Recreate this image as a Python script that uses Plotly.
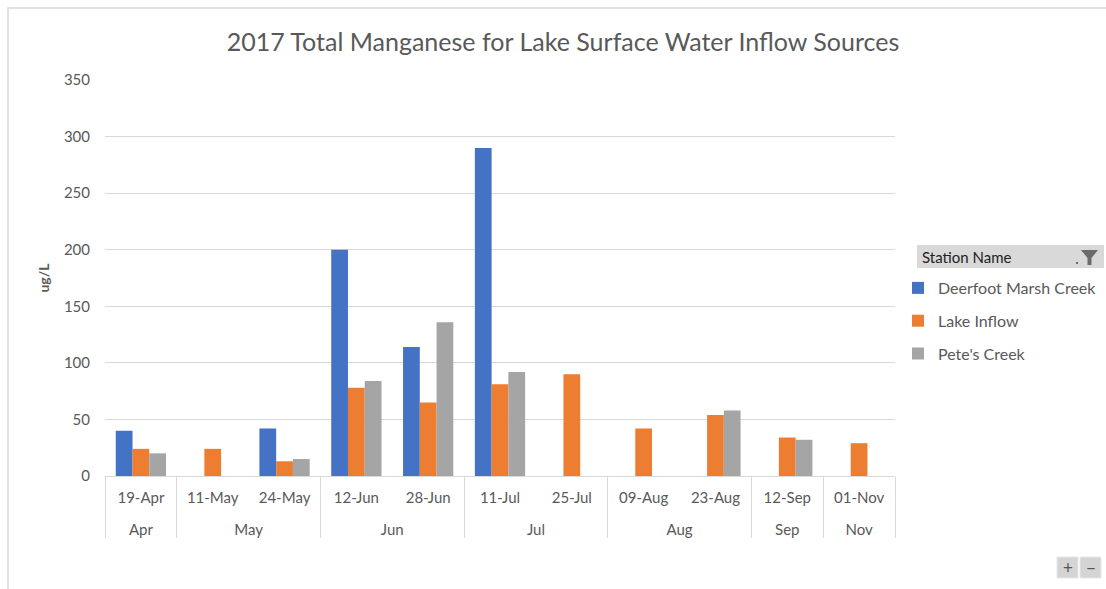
import plotly.graph_objects as go

months = ["Apr", "May", "May", "Jun", "Jun", "Jul", "Jul", "Aug", "Aug", "Sep", "Nov"]
dates = ["19-Apr", "11-May", "24-May", "12-Jun", "28-Jun", "11-Jul", "25-Jul",
         "09-Aug", "23-Aug", "12-Sep", "01-Nov"]
deerfoot = [40, None, 42, 200, 114, 290, None, None, None, None, None]
lake_inflow = [24, 24, 13, 78, 65, 81, 90, 42, 54, 34, 29]
petes = [20, None, 15, 84, 136, 92, None, None, 58, 32, None]

series = [
    ("Deerfoot Marsh Creek", deerfoot, "#4472C4"),
    ("Lake Inflow", lake_inflow, "#ED7D31"),
    ("Pete's Creek", petes, "#A5A5A5"),
]

W, H = 1106, 589
L, R, T, B = 105, 895, 80, 476
FONT = "Lato, Calibri, 'Open Sans', sans-serif"
TXT = "#595959"
GRID = "#d9d9d9"


def px(x):
    return (x - L) / (R - L)


def py(y):
    return (B - y) / (B - T)


# inner labels get an empty second line so the outer row sits lower (as in Excel)
date_labels = [d + "<br> " for d in dates]

fig = go.Figure()
for i, (name, vals, col) in enumerate(series):
    fig.add_trace(go.Bar(
        x=[months, date_labels], y=vals, name=name,
        marker=dict(color=col, line=dict(width=0)),
        legendgroup=f"g{i}",
    ))

shapes = [
    # outer chart frame
    dict(type="rect", xref="paper", yref="paper",
         x0=px(8), x1=px(1112), y0=py(8), y1=py(600),
         line=dict(color=GRID, width=1.5), fillcolor="rgba(0,0,0,0)", layer="below"),
    # legend header background
    dict(type="rect", xref="paper", yref="paper",
         x0=px(917), x1=px(1104), y0=py(245), y1=py(268),
         line=dict(width=0), fillcolor="#d9d9d9"),
    # filter funnel icon
    dict(type="path", xref="paper", yref="paper",
         path=(f"M {px(1081)} {py(250)} L {px(1098)} {py(250)} L {px(1091.5)} {py(258)} "
               f"L {px(1091.5)} {py(265)} L {px(1087.5)} {py(265)} L {px(1087.5)} {py(258)} Z"),
         line=dict(width=0), fillcolor="#6b6b6b"),
    dict(type="rect", xref="paper", yref="paper",
         x0=px(1076), x1=px(1078), y0=py(262), y1=py(264),
         line=dict(width=0), fillcolor="#6b6b6b"),
    # zoom buttons
    dict(type="rect", xref="paper", yref="paper",
         x0=px(1057), x1=px(1078), y0=py(557), y1=py(578),
         line=dict(color="#e8e8e8", width=1), fillcolor="#d4d4d4"),
    dict(type="rect", xref="paper", yref="paper",
         x0=px(1080), x1=px(1101), y0=py(557), y1=py(578),
         line=dict(color="#e8e8e8", width=1), fillcolor="#d4d4d4"),
]

annotations = [
    dict(text="Station Name", xref="paper", yref="paper", x=px(920), y=py(257),
         xanchor="left", yanchor="middle", showarrow=False,
         font=dict(family=FONT, size=15, color="#222222")),
    dict(text="+", xref="paper", yref="paper", x=px(1067.5), y=py(567),
         xanchor="center", yanchor="middle", showarrow=False,
         font=dict(family=FONT, size=17, color="#555555")),
    dict(text="−", xref="paper", yref="paper", x=px(1090.5), y=py(567),
         xanchor="center", yanchor="middle", showarrow=False,
         font=dict(family=FONT, size=17, color="#555555")),
]

fig.update_layout(
    width=W, height=H,
    margin=dict(l=L, r=W - R, t=T, b=H - B, pad=0, autoexpand=False),
    paper_bgcolor="white", plot_bgcolor="white",
    barmode="group", bargap=0.30, bargroupgap=0,
    font=dict(family=FONT, color=TXT, size=13),
    title=dict(text="2017 Total Manganese for Lake Surface Water Inflow Sources",
               x=563 / W, y=1 - 42 / H, xanchor="center", yanchor="middle",
               font=dict(family=FONT, size=25, color=TXT)),
    xaxis=dict(type="multicategory", showline=True, linecolor=GRID, linewidth=1,
               showgrid=False, ticks="", dividercolor=GRID, dividerwidth=1,
               ticklabelstandoff=8,
               tickfont=dict(family=FONT, size=15, color=TXT)),
    yaxis=dict(range=[0, 350], dtick=50, tick0=0, showgrid=True, gridcolor=GRID,
               gridwidth=1, zeroline=False, showline=False, ticks="",
               ticklabelstandoff=14,
               tickfont=dict(family=FONT, size=15, color=TXT),
               title=dict(text="<b>ug/L</b>", standoff=10,
                          font=dict(family=FONT, size=14, color=TXT))),
    legend=dict(xref="container", yref="container", x=898 / W, y=1 - 271 / H,
                xanchor="left", yanchor="top",
                traceorder="grouped", tracegroupgap=9,
                font=dict(family=FONT, size=16, color=TXT),
                bgcolor="rgba(0,0,0,0)"),
    shapes=shapes,
    annotations=annotations,
    showlegend=True,
)

fig.write_html("out.html", config={"displayModeBar": False},
               post_script="document.body.style.margin='0';")
